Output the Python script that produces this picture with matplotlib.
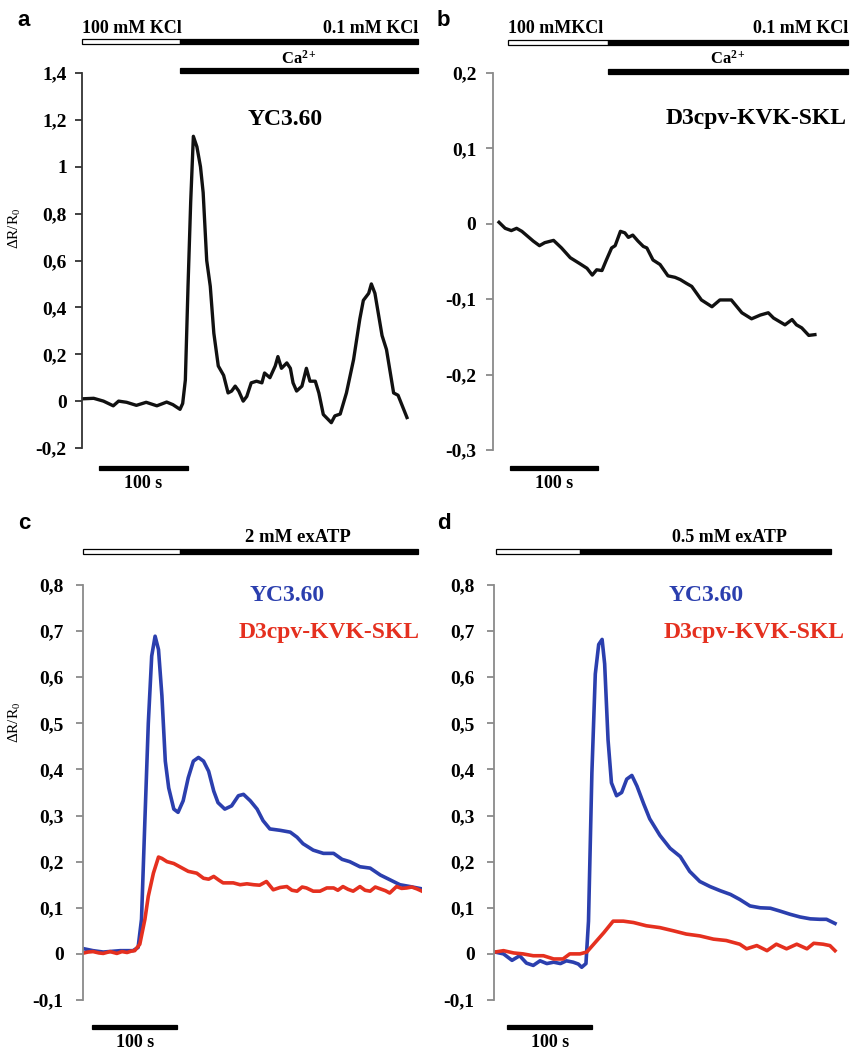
import matplotlib
matplotlib.use("Agg")
import matplotlib.pyplot as plt
from matplotlib.patches import Rectangle

plt.rcParams['font.family'] = ['Liberation Serif', 'DejaVu Serif']
plt.rcParams['mathtext.fontset'] = 'stix'
plt.rcParams['mathtext.default'] = 'regular'

# ---- data (time in s, ratio dR/R0) ----
A_TIME = [0, 12, 23, 34, 40, 49, 60, 71, 83, 94, 101, 105, 109,
          112, 115, 118, 121, 124, 128, 132, 135, 139, 143, 147, 152, 158,
          163, 167, 171, 175, 180, 184, 189, 195, 201, 204, 210, 216, 219,
          223, 229, 233, 236, 240, 246, 251, 255, 261, 265, 270, 279, 283,
          289, 296, 304, 311, 315, 321, 324, 328, 336, 341, 349, 354, 364]
A_RATIO = [0.01, 0.012, 0.0, -0.02, 0.0, -0.005, -0.018, -0.005, -0.02, -0.004, -0.015, -0.025, -0.035,
           -0.01, 0.09, 0.49, 0.85, 1.13, 1.085, 1.0, 0.89, 0.60, 0.49, 0.29, 0.15, 0.11,
           0.035, 0.043, 0.064, 0.043, 0.0, 0.02, 0.078, 0.085, 0.078, 0.12, 0.10, 0.15, 0.19,
           0.14, 0.163, 0.14, 0.078, 0.043, 0.064, 0.14, 0.085, 0.085, 0.035, -0.057, -0.092, -0.063,
           -0.055, 0.035, 0.177, 0.35, 0.43, 0.46, 0.50, 0.46, 0.28, 0.22, 0.035, 0.025, -0.07]

B_TIME = [0, 7, 14, 20, 26, 33, 39, 46, 52, 62,
          71, 81, 92, 100, 106, 111, 117, 122, 128, 132,
          138, 143, 147, 152, 158, 164, 168, 175, 183, 192,
          200, 206, 213, 219, 230, 242, 251, 264, 276, 287,
          297, 306, 312, 325, 333, 338, 344, 352, 359]
B_RATIO = [0.002, -0.006, -0.009, -0.006, -0.010, -0.017, -0.023, -0.029, -0.025, -0.022,
           -0.032, -0.045, -0.053, -0.059, -0.068, -0.061, -0.062, -0.048, -0.032, -0.029,
           -0.010, -0.012, -0.018, -0.015, -0.023, -0.030, -0.032, -0.048, -0.054, -0.069,
           -0.071, -0.074, -0.079, -0.083, -0.101, -0.110, -0.101, -0.101, -0.118, -0.126,
           -0.121, -0.118, -0.125, -0.134, -0.127, -0.134, -0.138, -0.148, -0.147]

C_YC_TIME = [0, 13, 25, 45, 60, 66, 70, 74, 78, 82,
             86, 90, 94, 98, 102, 108, 113, 119, 125, 131,
             137, 143, 149, 155, 160, 168, 176, 184, 190, 198,
             206, 213, 221, 233, 245, 253, 260, 272, 284, 296,
             306, 315, 327, 339, 351, 362, 374, 386, 400]
C_YC = [0.012, 0.007, 0.004, 0.007, 0.007, 0.014, 0.075, 0.29, 0.50, 0.646,
        0.689, 0.66, 0.56, 0.418, 0.36, 0.314, 0.307, 0.332, 0.382, 0.418,
        0.426, 0.418, 0.396, 0.353, 0.328, 0.314, 0.321, 0.343, 0.346, 0.332,
        0.314, 0.289, 0.271, 0.268, 0.264, 0.253, 0.239, 0.225, 0.218, 0.218,
        0.205, 0.200, 0.189, 0.186, 0.171, 0.161, 0.150, 0.146, 0.141]
C_D3_TIME = [0, 7, 13, 20, 25, 33, 41, 47, 53, 58,
             62, 68, 74, 78, 84, 90, 94, 100, 108, 115,
             125, 135, 143, 149, 155, 161, 166, 178, 186, 194,
             202, 209, 217, 225, 233, 241, 247, 253, 259, 264,
             272, 280, 288, 296, 301, 307, 313, 319, 327, 333,
             339, 345, 351, 357, 362, 370, 376, 382, 388, 394, 400]
C_D3 = [0.001, 0.004, 0.005, 0.002, 0.001, 0.005, 0.001, 0.005, 0.003, 0.006,
        0.007, 0.021, 0.075, 0.125, 0.175, 0.21, 0.207, 0.20, 0.196, 0.189,
        0.179, 0.175, 0.164, 0.162, 0.168, 0.160, 0.154, 0.154, 0.150, 0.152,
        0.150, 0.149, 0.157, 0.139, 0.144, 0.146, 0.138, 0.136, 0.145, 0.143,
        0.136, 0.136, 0.143, 0.143, 0.138, 0.146, 0.140, 0.136, 0.146, 0.138,
        0.136, 0.145, 0.141, 0.137, 0.132, 0.146, 0.142, 0.143, 0.145, 0.141, 0.136]

D_YC_TIME = [0, 10, 20, 29, 37, 45, 53, 61, 69, 77,
             84, 92, 98, 102, 107, 110, 114, 118, 122, 126,
             129, 133, 137, 143, 149, 155, 161, 167, 175, 182,
             194, 206, 218, 229, 241, 253, 265, 277, 288, 300,
             312, 324, 335, 347, 359, 371, 382, 390, 400]
D_YC = [0.004, 0.0, -0.014, -0.004, -0.02, -0.025, -0.015, -0.021, -0.018, -0.021,
        -0.015, -0.018, -0.022, -0.029, -0.021, 0.071, 0.393, 0.607, 0.671, 0.682,
        0.629, 0.464, 0.371, 0.343, 0.35, 0.379, 0.387, 0.364, 0.325, 0.293,
        0.257, 0.229, 0.211, 0.179, 0.157, 0.146, 0.137, 0.129, 0.118, 0.104,
        0.100, 0.099, 0.093, 0.086, 0.080, 0.076, 0.075, 0.075, 0.066]
D_D3_TIME = [0, 10, 22, 33, 45, 57, 69, 80, 88, 100,
             108, 118, 128, 139, 151, 163, 178, 194, 210, 225,
             241, 257, 272, 288, 296, 308, 320, 331, 343, 355,
             367, 375, 386, 394, 400]
D_D3 = [0.004, 0.007, 0.002, 0.0, -0.004, -0.004, -0.011, -0.011, 0.0, 0.0,
        0.004, 0.025, 0.046, 0.071, 0.071, 0.068, 0.061, 0.057, 0.050, 0.043,
        0.039, 0.032, 0.029, 0.021, 0.011, 0.018, 0.007, 0.021, 0.011, 0.021,
        0.011, 0.023, 0.021, 0.018, 0.007]

A_TICKS = [-0.2, 0, 0.2, 0.4, 0.6, 0.8, 1.0, 1.2, 1.4]
A_TICK_LABELS = ["-0,2", "0", "0,2", "0,4", "0,6", "0,8", "1", "1,2", "1,4"]
B_TICKS = [-0.3, -0.2, -0.1, 0, 0.1, 0.2]
B_TICK_LABELS = ["-0,3", "-0,2", "-0,1", "0", "0,1", "0,2"]
CD_TICKS = [-0.1, 0, 0.1, 0.2, 0.3, 0.4, 0.5, 0.6, 0.7, 0.8]
CD_TICK_LABELS = ["-0,1", "0", "0,1", "0,2", "0,3", "0,4", "0,5", "0,6", "0,7", "0,8"]

# stimulus timing (s): (start of bar, switch, end)
A_STIM = (-1, 109, 376)
B_STIM = (10, 124, 397)
C_STIM = (1, 115, 395)
D_STIM = (1, 100, 395)
A_SCALE = (18, 118)
B_SCALE = (13, 113)
C_SCALE = (12, 112)
D_SCALE = (14, 114)

W, H = 850, 1052
SERIF = 'Liberation Serif'
BLUE = '#2b3fae'
RED = '#e5301f'

fig = plt.figure(figsize=(W / 100, H / 100), dpi=100)


def make_axes(box, t0, pps, ylim, ticks, labels, spine_color, pad):
    left, right, top, bottom = box
    ax = fig.add_axes([left / W, 1 - bottom / H, (right - left) / W, (bottom - top) / H])
    ax.set_xlim((left - t0) / pps, (right - t0) / pps)
    ax.set_ylim(*ylim)
    for s in ['top', 'right', 'bottom']:
        ax.spines[s].set_visible(False)
    ax.spines['left'].set_color(spine_color)
    ax.spines['left'].set_linewidth(1.3)
    ax.set_xticks([])
    ax.set_yticks(ticks, labels)
    ax.tick_params(axis='y', direction='out', length=5, width=1.3, color=spine_color,
                   labelsize=14, pad=pad)
    for lab in ax.get_yticklabels():
        lab.set_fontweight('bold')
        lab.set_family(SERIF)
    return ax


def yfrac(box, ypix):
    return (box[3] - ypix) / (box[3] - box[2])


def hbar(ax, box, t0, t1, ypix, hpix, fc):
    h = hpix / (box[3] - box[2])
    ax.add_patch(Rectangle((t0, yfrac(box, ypix) - h / 2), t1 - t0, h,
                           transform=ax.get_xaxis_transform(), clip_on=False,
                           facecolor=fc, edgecolor='black', lw=0.9))


def ftext(x, y, s, **kw):
    kw.setdefault('family', SERIF)
    kw.setdefault('fontweight', 'bold')
    fig.text(x / W, 1 - y / H, s, **kw)


def scale_bar(ax, box, span, ypix, text_y, xc):
    hbar(ax, box, span[0], span[1], ypix, 4, 'black')
    ftext(xc, text_y, "100 s", fontsize=13, ha='center', va='baseline')


# ---- panel a ----
box_a = (82, 420, 73, 448)
ax_a = make_axes(box_a, 83, 0.89, (-0.2, 1.4), A_TICKS, A_TICK_LABELS, '#333333', 6)
ax_a.plot(A_TIME, A_RATIO, color='#111111', lw=2.4, solid_joinstyle='round')
hbar(ax_a, box_a, A_STIM[0], A_STIM[1], 41.5, 5, 'white')
hbar(ax_a, box_a, A_STIM[1], A_STIM[2], 41.5, 5, 'black')
hbar(ax_a, box_a, A_STIM[1], A_STIM[2], 70.5, 5, 'black')
ftext(82, 33, "100 mM KCl", fontsize=13, ha='left', va='baseline')
ftext(418, 33, "0.1 mM KCl", fontsize=13, ha='right', va='baseline')
ftext(299, 64, "Ca$^{2+}$", fontsize=12, ha='center', va='baseline')
ftext(285, 125, "YC3.60", fontsize=17, ha='center', va='baseline')
scale_bar(ax_a, box_a, A_SCALE, 468, 488, 143)

# ---- panel b ----
box_b = (493, 850, 73, 450)
ax_b = make_axes(box_b, 499, 0.88, (-0.3, 0.2), B_TICKS, B_TICK_LABELS, '#8a8a8a', 7)
ax_b.plot(B_TIME, B_RATIO, color='#111111', lw=2.4, solid_joinstyle='round')
hbar(ax_b, box_b, B_STIM[0], B_STIM[1], 42, 5, 'white')
hbar(ax_b, box_b, B_STIM[1], B_STIM[2], 42, 5, 'black')
hbar(ax_b, box_b, B_STIM[1], B_STIM[2], 71, 5, 'black')
ftext(508, 33, "100 mMKCl", fontsize=13, ha='left', va='baseline')
ftext(848, 33, "0.1 mM KCl", fontsize=13, ha='right', va='baseline')
ftext(728, 64, "Ca$^{2+}$", fontsize=12, ha='center', va='baseline')
ftext(847, 124, "D3cpv-KVK-SKL", fontsize=17, ha='right', va='baseline')
scale_bar(ax_b, box_b, B_SCALE, 468, 488, 554)

# ---- panel c ----
box_c = (83, 422, 585, 1000)
ax_c = make_axes(box_c, 82, 0.85, (-0.1, 0.8), CD_TICKS, CD_TICK_LABELS, '#8a8a8a', 9)
ax_c.plot(C_YC_TIME, C_YC, color=BLUE, lw=2.6)
ax_c.plot(C_D3_TIME, C_D3, color=RED, lw=2.6)
hbar(ax_c, box_c, C_STIM[0], C_STIM[1], 551, 5, 'white')
hbar(ax_c, box_c, C_STIM[1], C_STIM[2], 551, 5, 'black')
ftext(298, 542, "2 mM exATP", fontsize=13.5, ha='center', va='baseline')
ftext(287, 601, "YC3.60", fontsize=17, ha='center', va='baseline', color=BLUE)
ftext(420, 638, "D3cpv-KVK-SKL", fontsize=17, ha='right', va='baseline', color=RED)
scale_bar(ax_c, box_c, C_SCALE, 1027, 1047, 135)

# ---- panel d ----
box_d = (494, 850, 585, 1000)
ax_d = make_axes(box_d, 495, 0.85, (-0.1, 0.8), CD_TICKS, CD_TICK_LABELS, '#8a8a8a', 9)
ax_d.plot(D_YC_TIME, D_YC, color=BLUE, lw=2.6)
ax_d.plot(D_D3_TIME, D_D3, color=RED, lw=2.6)
hbar(ax_d, box_d, D_STIM[0], D_STIM[1], 551, 5, 'white')
hbar(ax_d, box_d, D_STIM[1], D_STIM[2], 551, 5, 'black')
ftext(729, 542, "0.5 mM exATP", fontsize=13, ha='center', va='baseline')
ftext(706, 601, "YC3.60", fontsize=17, ha='center', va='baseline', color=BLUE)
ftext(845, 638, "D3cpv-KVK-SKL", fontsize=17, ha='right', va='baseline', color=RED)
scale_bar(ax_d, box_d, D_SCALE, 1027, 1047, 550)

# y labels
ftext(15, 228, "ΔR/R$_0$", fontsize=11, fontweight='normal', rotation=90, ha='center', va='center')
ftext(15, 722, "ΔR/R$_0$", fontsize=11, fontweight='normal', rotation=90, ha='center', va='center')

# panel letters
for x, y, s in [(17, 26, 'a'), (437, 26, 'b'), (18, 529, 'c'), (437, 529, 'd')]:
    ftext(x, y, s, fontsize=16, family='Liberation Sans', ha='left', va='baseline')

fig.savefig("out.png", dpi=100)
